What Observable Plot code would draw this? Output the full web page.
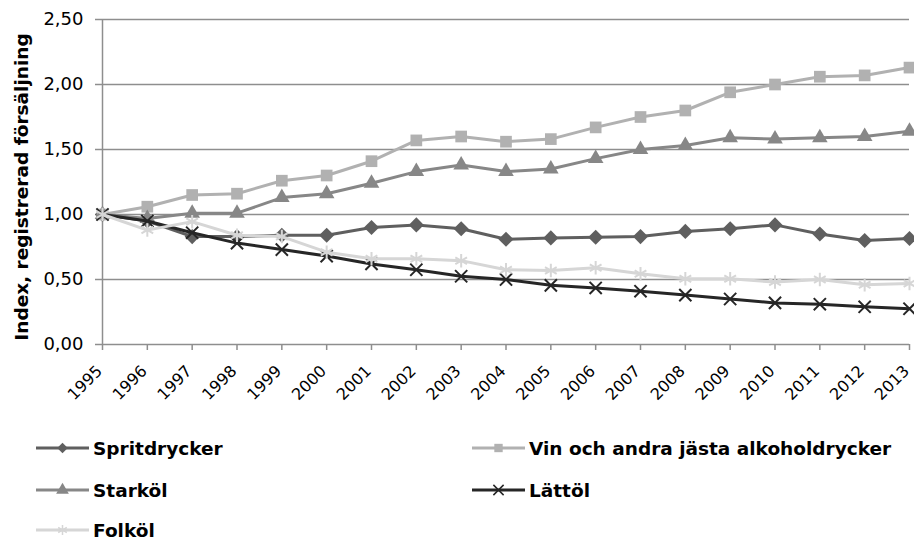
<!DOCTYPE html>
<html><head><meta charset="utf-8">
<script src="https://cdn.jsdelivr.net/npm/d3@7"></script>
<script src="https://cdn.jsdelivr.net/npm/@observablehq/plot@0.6"></script>
<style>
body{margin:0;background:#fff;font-family:"DejaVu Sans",Verdana,sans-serif;}
#wrap{position:relative;width:914px;height:541px;overflow:hidden;background:#fff}
.leg{position:absolute;height:24px;display:flex;align-items:center;font-weight:bold;font-size:18.5px;color:#000;white-space:nowrap}
.leg svg{margin-right:4px}
</style></head><body><div id="wrap"><div id="chart"></div></div>
<script>
const years = [1995,1996,1997,1998,1999,2000,2001,2002,2003,2004,2005,2006,2007,2008,2009,2010,2011,2012,2013];
const spritdrycker = [1.00,0.95,0.83,0.83,0.84,0.84,0.90,0.92,0.89,0.81,0.82,0.825,0.83,0.87,0.89,0.92,0.85,0.80,0.815];
const vin = [1.00,1.06,1.15,1.16,1.26,1.30,1.41,1.57,1.60,1.56,1.58,1.67,1.75,1.80,1.94,2.00,2.06,2.07,2.13];
const starkol = [1.00,0.97,1.01,1.01,1.13,1.16,1.24,1.33,1.38,1.33,1.35,1.43,1.50,1.53,1.59,1.58,1.59,1.60,1.64];
const lattol = [1.00,0.95,0.86,0.78,0.73,0.68,0.62,0.575,0.525,0.50,0.455,0.435,0.41,0.38,0.35,0.32,0.31,0.29,0.275];
const folkol = [1.00,0.88,0.945,0.84,0.83,0.71,0.66,0.66,0.645,0.575,0.57,0.59,0.545,0.505,0.505,0.48,0.50,0.46,0.47];
const seriesNames = ["Spritdrycker","Vin och andra jästa alkoholdrycker","Starköl","Lättöl","Folköl"];
const yTicks = [0,0.5,1,1.5,2,2.5];
const yTitle = "Index, registrerad försäljning";

const styles = [
  {color:"#5f5f5f", symbol:"diamond2", r:6.8, kind:"fill"},
  {color:"#b1b1b1", symbol:"square", r:6.6, kind:"fill"},
  {color:"#878787", symbol:"triangle", r:5.8, kind:"fill"},
  {color:"#262626", symbol:"times", r:5.6, kind:"stroke"},
  {color:"#d6d6d6", symbol:"asterisk", r:6.4, kind:"stroke"}
];
const allValues = [spritdrycker, vin, starkol, lattol, folkol];
const grid = "#8e8e8e";

const marks = [
  Plot.gridY(yTicks.filter(d => d > 0), {stroke: grid, strokeOpacity: 1, strokeWidth: 1.5}),
  Plot.ruleY([0], {stroke: grid, strokeWidth: 1.5}),
  Plot.ruleX([1995], {stroke: grid, strokeWidth: 1.5}),
  Plot.axisY({ticks: yTicks, tickFormat: d => d.toFixed(2).replace(".", ","), tickSize: 7, tickPadding: 12, fontSize: 18, stroke: grid, strokeWidth: 1.5, label: null}),
  Plot.axisX({ticks: years, tickSize: 6, stroke: grid, strokeWidth: 1.5, text: null, label: null}),
  Plot.axisX({ticks: years, tickFormat: d => String(d), tickRotate: -45, tickSize: 0, tickPadding: 24, dx: -3, fontSize: 16, label: null}),
  Plot.text([yTitle], {frameAnchor: "left", dx: -80, dy: 5, rotate: -90, textAnchor: "middle", fontSize: 18.5, fontWeight: "bold", fill: "#000"})
];
allValues.forEach((vals, i) => {
  const rows = years.map((yr, j) => ({year: yr, value: vals[j]}));
  const s = styles[i];
  marks.push(Plot.line(rows, {x: "year", y: "value", stroke: s.color, strokeWidth: 3}));
  if (s.kind === "fill") {
    marks.push(Plot.dot(rows, {x: "year", y: "value", symbol: s.symbol, r: s.r, fill: s.color, stroke: "none"}));
  } else {
    marks.push(Plot.dot(rows, {x: "year", y: "value", symbol: s.symbol, r: s.r, fill: "none", stroke: s.color, strokeWidth: 2}));
  }
});

const chart = Plot.plot({
  width: 914, height: 410,
  marginLeft: 102, marginRight: 5, marginTop: 19, marginBottom: 66,
  style: {fontFamily: '"DejaVu Sans", Verdana, sans-serif', color: "#000", background: "#fff"},
  x: {domain: [1995, 2013]},
  y: {domain: [0, 2.5]},
  marks
});
const wrap = document.getElementById("wrap");
document.getElementById("chart").appendChild(chart);

// legend
const legPos = [
  {left: 36, top: 436}, {left: 472, top: 436},
  {left: 36, top: 478}, {left: 472, top: 478},
  {left: 36, top: 518}
];
function swatch(s) {
  const ns = "http://www.w3.org/2000/svg";
  const svg = document.createElementNS(ns, "svg");
  svg.setAttribute("width", 53); svg.setAttribute("height", 24);
  const ln = document.createElementNS(ns, "line");
  ln.setAttribute("x1", 0); ln.setAttribute("x2", 53); ln.setAttribute("y1", 12); ln.setAttribute("y2", 12);
  ln.setAttribute("stroke", s.color); ln.setAttribute("stroke-width", 3);
  svg.appendChild(ln);
  const p = document.createElementNS(ns, "path");
  const symMap = {diamond2: d3.symbolDiamond2, square: d3.symbolSquare, triangle: d3.symbolTriangle, times: d3.symbolTimes, asterisk: d3.symbolAsterisk};
  p.setAttribute("d", d3.symbol(symMap[s.symbol], 70)());
  p.setAttribute("transform", "translate(26.5,12)");
  if (s.kind === "fill") { p.setAttribute("fill", s.color); }
  else { p.setAttribute("fill", "none"); p.setAttribute("stroke", s.color); p.setAttribute("stroke-width", 1.5); }
  svg.appendChild(p);
  return svg;
}
seriesNames.forEach((name, i) => {
  const d = document.createElement("div");
  d.className = "leg";
  d.style.left = legPos[i].left + "px";
  d.style.top = legPos[i].top + "px";
  d.appendChild(swatch(styles[i]));
  const t = document.createElement("span");
  t.textContent = name;
  d.appendChild(t);
  wrap.appendChild(d);
});
</script></body></html>
